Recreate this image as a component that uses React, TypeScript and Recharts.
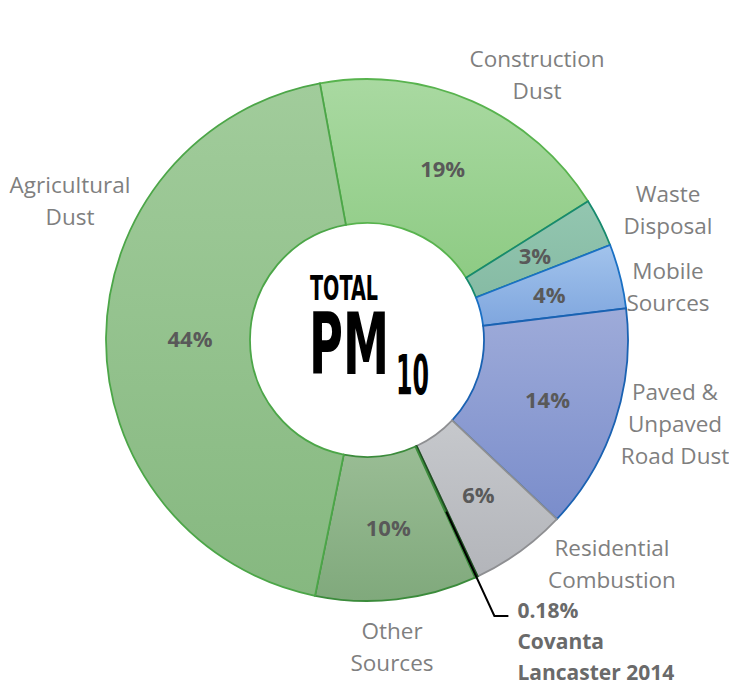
import React from "react";
import { PieChart, Pie, Cell } from "recharts";

// ---- data ----
const categories = [
  "Construction Dust",
  "Waste Disposal",
  "Mobile Sources",
  "Paved & Unpaved Road Dust",
  "Residential Combustion",
  "Covanta Lancaster 2014",
  "Other Sources",
  "Agricultural Dust",
];
const shares = [19, 3, 4, 14, 6, 0.18, 10, 44];
const labelLines = [
  ["Construction", "Dust"],
  ["Waste", "Disposal"],
  ["Mobile", "Sources"],
  ["Paved &", "Unpaved", "Road Dust"],
  ["Residential", "Combustion"],
  ["Covanta", "Lancaster 2014"],
  ["Other", "Sources"],
  ["Agricultural", "Dust"],
];
const centerTitle = ["TOTAL", "PM", "10"];

// ---- style / layout ----
const fills = [
  ["#a9d9a1", "#8ecb84"],
  ["#93c6b0", "#86bba4"],
  ["#a2c3ec", "#7fa6de"],
  ["#9eabd9", "#7a8dcb"],
  ["#c6c8cc", "#b3b5ba"],
  ["#2f6e35", "#2f6e35"],
  ["#9abd95", "#80a97c"],
  ["#a1cc9b", "#86b880"],
];
const strokes = ["#58b34e", "#178a6e", "#1a70c4", "#1a62b2", "#8e8f92", "#1f4f22", "#3b8b3b", "#4ca648"];
// text block anchor offsets from pie centre (first line centre)
const labelOffsets = [
  [170, -282],
  [301, -147],
  [301, -70],
  [308, 51],
  [245, 207],
  [0, 0],
  [25, 290],
  [-297, -156],
];
const pctRadius = [188, 188, 188, 190, 190, 0, 188, 177];

const data = categories.map((name, i) => ({ name, value: shares[i] }));

const RAD = Math.PI / 180;

const renderLabel = (props: any) => {
  const { cx, cy, midAngle, innerRadius, outerRadius, index } = props;
  const cos = Math.cos(-midAngle * RAD);
  const sin = Math.sin(-midAngle * RAD);
  const lines = labelLines[index];
  if (index === 5) {
    const r0 = (innerRadius + outerRadius) / 2;
    const r1 = outerRadius + 43;
    const x0 = cx + r0 * cos;
    const y0 = cy + r0 * sin;
    const x1 = cx + r1 * cos;
    const y1 = cy + r1 * sin;
    const x2 = x1 + 14;
    return (
      <g key={`lab-${index}`}>
        <polyline
          points={`${x0},${y0} ${x1},${y1} ${x2},${y1}`}
          fill="none"
          stroke="#000"
          strokeWidth={2}
        />
        <g fontFamily="Open Sans" fontWeight="bold" fontSize={21} fill="#6a6a6a">
          <text x={x2 + 9} y={y1 - 6} dominantBaseline="central">
            {shares[index]}%
          </text>
          {lines.map((l, k) => (
            <text key={k} x={x2 + 9} y={y1 - 7 + 31.5 * (k + 1)} dominantBaseline="central">
              {l}
            </text>
          ))}
        </g>
      </g>
    );
  }
  const pr = pctRadius[index];
  const px = cx + pr * cos;
  const py = cy + pr * sin;
  const [dx, dy] = labelOffsets[index];
  return (
    <g key={`lab-${index}`}>
      <text
        x={px}
        y={py}
        textAnchor="middle"
        dominantBaseline="central"
        fontFamily="Open Sans"
        fontWeight="bold"
        fontSize={22}
        fill="#595959"
      >
        {shares[index]}%
      </text>
      {lines.map((l, k) => (
        <text
          key={k}
          x={cx + dx}
          y={cy + dy + 32 * k}
          textAnchor="middle"
          dominantBaseline="central"
          fontFamily="Open Sans"
          fontSize={22.5}
          fill="#7f7f7f"
        >
          {l}
        </text>
      ))}
    </g>
  );
};

const W = 729;
const H = 679;
const CX = 359;
const CY = 332;

export default function App() {
  return (
    <div style={{ width: W, height: H, position: "relative", background: "#fff" }}>
      <PieChart
        width={W}
        height={H}
        margin={{ top: 0, right: 0, bottom: 0, left: 0 }}
        style={{ overflow: "visible" }}
      >
        <defs>
          {fills.map((f, i) => (
            <linearGradient key={i} id={`g${i}`} x1="0" y1="0" x2="0" y2="1">
              <stop offset="0%" stopColor={f[0]} />
              <stop offset="100%" stopColor={f[1]} />
            </linearGradient>
          ))}
        </defs>
        <Pie
          data={data}
          dataKey="value"
          nameKey="name"
          cx={CX}
          cy={CY}
          innerRadius={117}
          outerRadius={261}
          startAngle={100.4}
          endAngle={-259.6}
          paddingAngle={0}
          label={renderLabel}
          labelLine={false}
          isAnimationActive={false}
        >
          {data.map((d, i) => (
            <Cell key={d.name} fill={`url(#g${i})`} stroke={strokes[i]} strokeWidth={1.8} />
          ))}
        </Pie>
      </PieChart>
      <svg
        width={W}
        height={H}
        style={{ position: "absolute", left: 0, top: 0, pointerEvents: "none" }}
      >
        <g fontFamily="DejaVu Sans Condensed" fontWeight="bold" fill="#000">
          <text x={302} y={292} fontSize={34} textLength={68} lengthAdjust="spacingAndGlyphs">
            {centerTitle[0]}
          </text>
          <text x={301} y={366} fontSize={85} textLength={80} lengthAdjust="spacingAndGlyphs">
            {centerTitle[1]}
          </text>
          <text x={388} y={386} fontSize={56} textLength={33} lengthAdjust="spacingAndGlyphs">
            {centerTitle[2]}
          </text>
        </g>
      </svg>
    </div>
  );
}
